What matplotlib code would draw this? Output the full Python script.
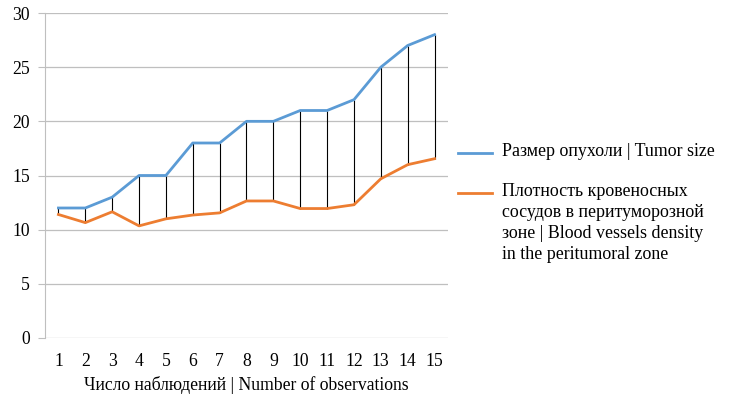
import numpy as np
import matplotlib.pyplot as plt
from matplotlib.lines import Line2D

plt.rcParams['font.family'] = ['Liberation Serif', 'DejaVu Serif']

obs = list(range(1, 16))
tumor_size = [12, 12, 13, 15, 15, 18, 18, 20, 20, 21, 21, 22, 25, 27, 28]
vessel_density = [11.4, 10.65, 11.65, 10.35, 11.0, 11.35, 11.55, 12.65, 12.65,
                  11.95, 11.95, 12.3, 14.7, 16.0, 16.55]

label_tumor = 'Размер опухоли | Tumor size'
label_vessels = ('Плотность кровеносных\nсосудов в перитуморозной\n'
                 'зоне | Blood vessels density\nin the peritumoral zone')
blue, orange = '#5b9bd5', '#ed7d31'

W, H = 729, 397
fig = plt.figure(figsize=(W / 100, H / 100), dpi=100)
ax = fig.add_axes([45 / W, 1 - 338 / H, (448 - 45) / W, (338 - 13) / H])

# high-low lines between the two series
ax.vlines(obs, vessel_density, tumor_size, color='black', lw=0.8, zorder=2)
ax.plot(obs, tumor_size, color=blue, lw=2.0, zorder=3)
ax.plot(obs, vessel_density, color=orange, lw=2.0, zorder=3)

ax.set_xlim(0.5, 15.5)
ax.set_ylim(0, 30)
ax.set_yticks(range(0, 31, 5))
ax.set_xticks(obs)
ax.grid(axis='y', color='#bfbfbf', lw=0.9)
ax.set_axisbelow(True)
for s in ['top', 'right', 'bottom']:
    ax.spines[s].set_visible(False)
ax.spines['left'].set_color('#bfbfbf')
ax.tick_params(axis='y', length=5, color='#bfbfbf', labelsize=12.7, pad=6)
ax.tick_params(axis='x', length=0, labelsize=12.7, pad=11)
ax.set_xlabel('Число наблюдений | Number of observations', fontsize=12.7, labelpad=4)

# legend on the right, line handles level with the first text line
def legend_entry(y, color, text):
    fig.add_artist(Line2D([458 / W, 492 / W], [1 - y / H] * 2, color=color, lw=2.0))
    fig.text(502 / W, 1 - (y - 9.5) / H, text, fontsize=12.9, va='top', ha='left',
             linespacing=1.3)

legend_entry(153, blue, label_tumor)
legend_entry(193, orange, label_vessels)

fig.savefig('out.png', dpi=100)
